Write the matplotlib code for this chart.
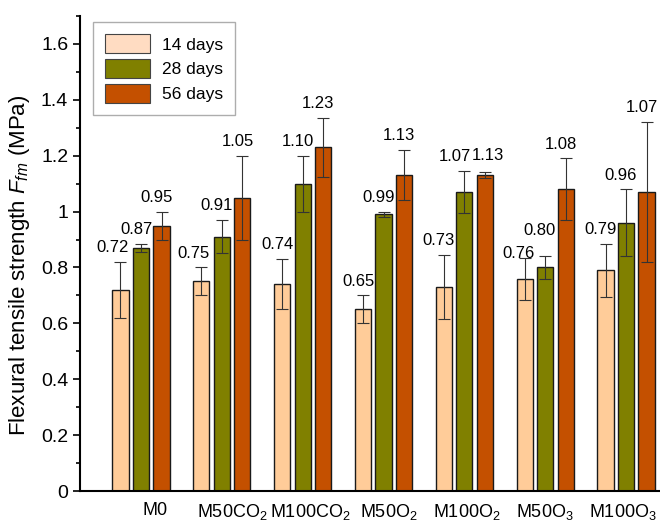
import numpy as np
import matplotlib
matplotlib.use("Agg")
import matplotlib.pyplot as plt
from matplotlib.patches import Patch
from matplotlib.ticker import MultipleLocator, FormatStrFormatter

plt.rcParams["font.family"] = ["Liberation Sans", "DejaVu Sans"]
plt.rcParams["mathtext.fontset"] = "custom"
plt.rcParams["mathtext.rm"] = "Liberation Sans"
plt.rcParams["mathtext.it"] = "Liberation Sans:italic"

groups = ["M0", "M50CO$_2$", "M100CO$_2$", "M50O$_2$", "M100O$_2$", "M50O$_3$", "M100O$_3$"]
series = ["14 days", "28 days", "56 days"]

d14 = [0.72, 0.75, 0.74, 0.65, 0.73, 0.76, 0.79]
d28 = [0.87, 0.91, 1.10, 0.99, 1.07, 0.80, 0.96]
d56 = [0.95, 1.05, 1.23, 1.13, 1.13, 1.08, 1.07]

e14 = [0.10, 0.05, 0.09, 0.05, 0.115, 0.075, 0.095]
e28 = [0.015, 0.06, 0.10, 0.01, 0.075, 0.04, 0.12]
e56 = [0.05, 0.15, 0.105, 0.09, 0.01, 0.11, 0.25]

colors = ["#FFCC99", "#808000", "#C45000"]
legend_colors = ["#FFDCC2", "#808000", "#C45000"]

fig = plt.figure(figsize=(6.6, 5.21), dpi=100)
ax = fig.add_axes([80 / 660, 1 - 491 / 521, 580 / 660, 475 / 521])

x = np.arange(len(groups))
w = 0.2
step = 0.254
px = 1 / 80.8  # data units per pixel in x

# manual nudges (dx px, dy pt) so the labels do not overlap
nudge = {(5, 0): (-1, -7), (5, 1): (-1, 8), (4, 1): (-4, 0), (4, 2): (8, 2),
         (0, 0): (-3, 0), (1, 0): (-3, 0)}

for k, (vals, errs) in enumerate([(d14, e14), (d28, e28), (d56, e56)]):
    pos = x + (k - 1) * step
    ax.bar(pos, vals, width=w, color=colors[k], edgecolor="#1a1a1a", linewidth=1.0, zorder=2)
    ax.errorbar(pos, vals, yerr=errs, fmt="none", ecolor="#333333", elinewidth=0.8,
                capsize=4, capthick=0.8, zorder=3)
    for i, (v, e) in enumerate(zip(vals, errs)):
        dx, dy = nudge.get((i, k), (0, 0))
        ax.annotate(f"{v:.2f}", (pos[i] + (-5 + dx) * px, v + e), xytext=(0, 7 + dy),
                    textcoords="offset points", ha="center", va="baseline", fontsize=12)

ax.set_xlim(-0.755, 6.42)
ax.set_ylim(0, 1.70)
ax.yaxis.set_major_locator(MultipleLocator(0.2))
ax.yaxis.set_minor_locator(MultipleLocator(0.1))
ax.yaxis.set_major_formatter(FormatStrFormatter("%g"))
ax.tick_params(axis="y", which="major", length=5, width=1.2, labelsize=14)
ax.tick_params(axis="y", which="minor", length=3, width=1.2)
label_pos = np.linspace(0.17, 5.96, len(groups))
ax.set_xticks(label_pos)
ax.set_xticklabels(groups, fontsize=13)
ax.tick_params(axis="x", length=0, pad=8)
for s in ["top", "right"]:
    ax.spines[s].set_visible(False)
ax.spines["left"].set_linewidth(1.5)
ax.spines["bottom"].set_linewidth(1.5)

ax.set_ylabel("Flexural tensile strength $F_{fm}$ (MPa)", fontsize=16)
ax.yaxis.set_label_coords(-0.082, 0.474)

handles = [Patch(facecolor=c, edgecolor="#444444", linewidth=0.8) for c in legend_colors]
leg = ax.legend(handles, series, loc="upper left", bbox_to_anchor=(0.022, 0.987), fontsize=12.5,
                frameon=True, fancybox=False, edgecolor="#999999", handlelength=2.6,
                handleheight=1.3, borderpad=0.7, labelspacing=0.33, handletextpad=0.7,
                borderaxespad=0)
leg.get_frame().set_linewidth(1.0)

fig.savefig("out.png", dpi=100)
